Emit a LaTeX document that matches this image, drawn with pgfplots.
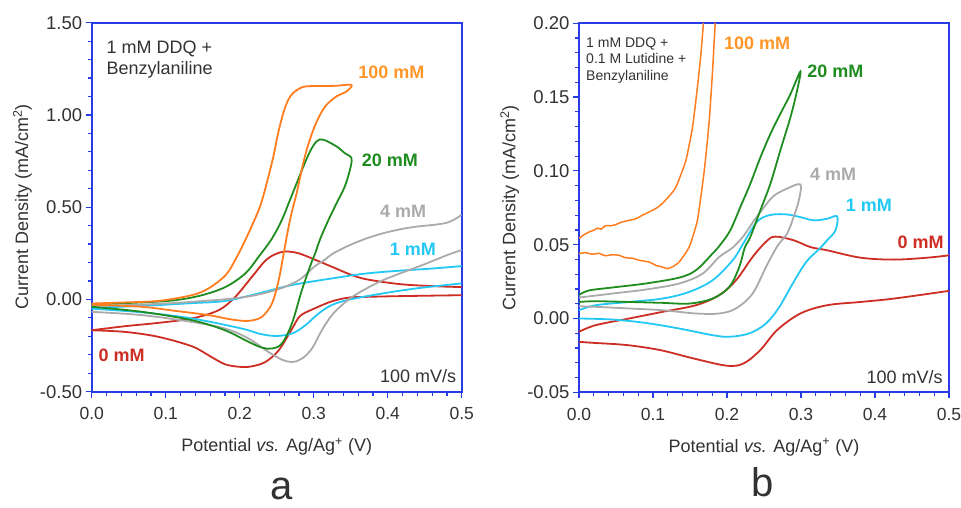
\documentclass[border=0pt]{standalone}
\usepackage{fontspec}
\setmainfont{Liberation Sans}
\usepackage{pgfplots}
\pgfplotsset{compat=1.18}

\definecolor{axblue}{RGB}{40,60,230}
\definecolor{cvorange}{RGB}{255,125,30}
\definecolor{lborange}{RGB}{255,150,40}
\definecolor{cvgreen}{RGB}{30,140,30}
\definecolor{cvgray}{RGB}{170,170,170}
\definecolor{cvcyan}{RGB}{35,200,245}
\definecolor{cvred}{RGB}{205,45,35}
\definecolor{txt}{RGB}{50,50,50}

\pgfplotsset{
 cv/.style={color=#1, line width=1.8pt, smooth, tension=0.55, mark=none},
 cvax/.style={
  scale only axis, width=370pt, height=369pt,
  xmin=0, xmax=0.5,
  axis line style={axblue, line width=1.8pt},
  tick style={axblue, line width=1.2pt},
  tick align=outside, tick pos=left,
  major tick length=6pt, minor tick length=4pt,
  xtick={0,0.1,0.2,0.3,0.4,0.5}, minor x tick num=4, minor y tick num=4,
  ticklabel style={text=txt},
  xticklabel style={font=\fontsize{17.5}{17.5}\selectfont, yshift=-6pt,
    /pgf/number format/.cd, fixed, fixed zerofill, precision=1},
  yticklabel style={font=\fontsize{18.5}{18.5}\selectfont,
    /pgf/number format/.cd, fixed, fixed zerofill, precision=2},
  /pgf/number format/assume math mode=true,
  label style={font=\fontsize{18}{18}\selectfont, text=txt},
  xlabel={Potential \textit{vs.} Ag/Ag\textsuperscript{+} (V)},
  ylabel={Current Density (mA/cm\textsuperscript{2})},
  xlabel style={at={(axis description cs:0.5,-0.149)}, anchor=center},
  ylabel style={at={(axis description cs:-0.187,0.5)}, anchor=center},
 }}

\begin{document}
\begin{tikzpicture}
\useasboundingbox (0,0) rectangle (961pt,508pt);

% ---------- panel a ----------
\begin{axis}[cvax, at={(91.7pt,116.3pt)}, anchor=south west,
  ymin=-0.5, ymax=1.5, ytick={-0.5,0,0.5,1,1.5}]
% 0 mM
\addplot[cv=cvred] coordinates {
 (0,-0.167) (0.045,-0.145) (0.09,-0.127) (0.1355,-0.103) (0.1716,-0.058)
 (0.194,0.014) (0.2166,0.123) (0.2346,0.21) (0.248,0.245) (0.2616,0.26)
 (0.2797,0.25) (0.302,0.215) (0.3265,0.174) (0.349,0.136) (0.3716,0.109)
 (0.4166,0.083) (0.4616,0.072) (0.5,0.067)};
\addplot[cv=cvred] coordinates {
 (0.5,0.023) (0.4166,0.018) (0.3716,0.014) (0.349,0.011) (0.3247,-0.01)
 (0.2977,-0.055) (0.2815,-0.09) (0.2706,-0.16) (0.2527,-0.276) (0.2346,-0.339)
 (0.2166,-0.3625) (0.203,-0.366) (0.1806,-0.352) (0.158,-0.303) (0.1355,-0.254)
 (0.0905,-0.203) (0.0454,-0.176) (0,-0.167)};
% 1 mM
\addplot[cv=cvcyan] coordinates {
 (0,-0.045) (0.068,-0.035) (0.1355,-0.02) (0.1806,-0.008) (0.2257,0.033)
 (0.2706,0.078) (0.3247,0.114) (0.3716,0.141) (0.4166,0.156) (0.4616,0.168)
 (0.5,0.181)};
\addplot[cv=cvcyan] coordinates {
 (0,-0.05) (0.068,-0.07) (0.1355,-0.103) (0.203,-0.158) (0.2257,-0.185)
 (0.248,-0.198) (0.2706,-0.185) (0.2887,-0.14) (0.3067,-0.076) (0.3247,-0.03)
 (0.349,0.0) (0.394,0.033) (0.439,0.06) (0.5,0.087)};
% 4 mM
\addplot[cv=cvgray] coordinates {
 (0,-0.035) (0.068,-0.028) (0.1355,-0.013) (0.203,0.011) (0.248,0.05)
 (0.28,0.105) (0.30,0.175) (0.315,0.215) (0.3265,0.25) (0.349,0.295)
 (0.3716,0.331) (0.394,0.359) (0.4166,0.38) (0.439,0.395) (0.4616,0.404)
 (0.48,0.416) (0.493,0.44) (0.5,0.46)};
\addplot[cv=cvgray] coordinates {
 (0,-0.067) (0.068,-0.085) (0.1355,-0.122) (0.1806,-0.158) (0.212,-0.212)
 (0.239,-0.285) (0.257,-0.326) (0.2706,-0.339) (0.284,-0.321) (0.2977,-0.266)
 (0.311,-0.167) (0.3265,-0.076) (0.349,0.005) (0.3716,0.06) (0.394,0.105)
 (0.4166,0.141) (0.439,0.174) (0.4616,0.21) (0.484,0.246) (0.5,0.268)};
% 20 mM
\addplot[cv=cvgreen] coordinates {
 (0,-0.026) (0.068,-0.016) (0.113,-0.004) (0.149,0.023) (0.181,0.068)
 (0.2076,0.141) (0.2257,0.232) (0.2436,0.33) (0.257,0.431) (0.268,0.54)
 (0.277,0.63) (0.286,0.72) (0.295,0.802) (0.304,0.857) (0.313,0.866)
 (0.331,0.829) (0.342,0.793) (0.351,0.766)
 (0.349,0.703) (0.342,0.612) (0.331,0.522) (0.320,0.431) (0.309,0.33)
 (0.302,0.25) (0.297,0.2) (0.284,0.05) (0.2706,-0.13) (0.257,-0.239)
 (0.2436,-0.266) (0.230,-0.261) (0.212,-0.23) (0.18,-0.167) (0.1355,-0.1125)
 (0.068,-0.067) (0,-0.04)};
% 100 mM
\addplot[cv=cvorange] coordinates {
 (0,-0.022) (0.045,-0.016) (0.09,-0.008) (0.135,0.023) (0.158,0.060)
 (0.181,0.132) (0.194,0.214) (0.2076,0.322) (0.214,0.377) (0.2274,0.503)
 (0.2365,0.630) (0.2455,0.775) (0.252,0.902) (0.259,1.011) (0.2657,1.083)
 (0.2725,1.12) (0.2815,1.145) (0.29,1.155) (0.31,1.157) (0.33,1.158)
 (0.351,1.163)
 (0.3446,1.128) (0.331,1.101) (0.3176,1.056) (0.3085,1.0) (0.2995,0.92)
 (0.2905,0.811) (0.2838,0.703) (0.277,0.576) (0.270,0.467) (0.2635,0.340)
 (0.2595,0.25) (0.2527,0.105) (0.2436,-0.022) (0.230,-0.094) (0.212,-0.116)
 (0.1896,-0.109) (0.158,-0.085) (0.113,-0.062) (0.068,-0.040) (0,-0.028)};

\node[anchor=north west, inner sep=0pt, align=left, text=txt,
  font=\fontsize{18}{21}\selectfont] at (axis cs:0.02,1.40)
  {1 mM DDQ +\\Benzylaniline};
\node[text=lborange, font=\fontsize{18}{18}\selectfont\bfseries] at (axis cs:0.405,1.232) {100 mM};
\node[text=cvgreen, font=\fontsize{18}{18}\selectfont\bfseries] at (axis cs:0.403,0.753) {20 mM};
\node[text=cvgray, font=\fontsize{18}{18}\selectfont\bfseries] at (axis cs:0.421,0.476) {4 mM};
\node[text=cvcyan, font=\fontsize{18}{18}\selectfont\bfseries] at (axis cs:0.434,0.272) {1 mM};
\node[text=cvred, font=\fontsize{18}{18}\selectfont\bfseries] at (axis cs:0.0405,-0.303) {0 mM};
\node[text=txt, font=\fontsize{18}{18}\selectfont] at (axis cs:0.441,-0.417) {100 mV/s};
\end{axis}

% ---------- panel b ----------
\begin{axis}[cvax, at={(579pt,115.7pt)}, anchor=south west,
  ymin=-0.05, ymax=0.2, ytick={-0.05,0,0.05,0.1,0.15,0.2}]
% 0 mM
\addplot[cv=cvred] coordinates {
 (0,-0.009) (0.0226,-0.0045) (0.0677,0.0) (0.1128,0.0045) (0.158,0.009)
 (0.1895,0.0158) (0.2122,0.0259) (0.2346,0.0417) (0.2527,0.052) (0.265,0.0555)
 (0.29,0.053) (0.3127,0.0484) (0.3354,0.0462) (0.3804,0.0412) (0.4256,0.0399)
 (0.4707,0.0412) (0.5,0.0428)};
\addplot[cv=cvred] coordinates {
 (0.5,0.0187) (0.4256,0.0135) (0.3804,0.0112) (0.3354,0.009) (0.2992,0.0034)
 (0.2676,-0.0079) (0.245,-0.0214) (0.2225,-0.0304) (0.2,-0.032) (0.155,-0.0271)
 (0.1096,-0.0214) (0.0646,-0.018) (0.0194,-0.0165) (0,-0.0158)};
% 1 mM
\addplot[cv=cvcyan] coordinates {
 (0,0.0056) (0.0226,0.009) (0.0677,0.0112) (0.1128,0.0135) (0.1489,0.018)
 (0.1805,0.0259) (0.2076,0.0394) (0.221,0.050) (0.2383,0.0642) (0.2495,0.0687)
 (0.263,0.0705) (0.2812,0.0705) (0.2992,0.0687) (0.3174,0.0665) (0.3354,0.0676)
 (0.3489,0.0692)
 (0.3466,0.0597) (0.3354,0.053) (0.325,0.0473) (0.307,0.0383) (0.2888,0.0237)
 (0.2708,0.0079) (0.2527,-0.0034) (0.2301,-0.0101) (0.2031,-0.0124) (0.1805,-0.0113)
 (0.1354,-0.0068) (0.090,-0.003) (0.045,-0.0007) (0,0.0)};
% 4 mM
\addplot[cv=cvgray] coordinates {
 (0,0.0142) (0.045,0.0169) (0.09,0.0196) (0.1354,0.0237) (0.167,0.0304)
 (0.1895,0.0417) (0.2076,0.048) (0.2225,0.056) (0.236,0.066) (0.2495,0.075)
 (0.263,0.083) (0.2812,0.088) (0.2992,0.0908)
 (0.297,0.080) (0.290,0.0687) (0.2812,0.0575) (0.268,0.049) (0.2527,0.0349)
 (0.2346,0.0169) (0.2122,0.0068) (0.1895,0.0034) (0.158,0.0034) (0.1128,0.0056)
 (0.0677,0.0068) (0.0226,0.0079) (0,0.0083)};
% 20 mM
\addplot[cv=cvgreen] coordinates {
 (0,0.016) (0.0135,0.019) (0.045,0.021) (0.090,0.0237) (0.1354,0.0277)
 (0.158,0.0327) (0.1805,0.044) (0.191,0.050) (0.2044,0.0597) (0.218,0.0755)
 (0.2315,0.0913) (0.245,0.109) (0.2586,0.125) (0.272,0.1386) (0.2857,0.152)
 (0.2992,0.1674)
 (0.2947,0.1544) (0.2857,0.1363) (0.272,0.1138) (0.2586,0.0913) (0.245,0.0732)
 (0.2315,0.0552) (0.224,0.048) (0.2166,0.0349) (0.2031,0.0214) (0.1805,0.0135)
 (0.1489,0.0101) (0.1128,0.0106) (0.0677,0.0112) (0.0226,0.0117) (0,0.0112)};
% 100 mM
\addplot[cv=cvorange, line width=1.5pt, tension=0.3] coordinates {
 (0,0.0541) (0.005,0.0562) (0.0135,0.0586) (0.02,0.0598) (0.025,0.0612)
 (0.03,0.0606) (0.036,0.063) (0.043,0.0628) (0.05,0.0637) (0.057,0.0652)
 (0.0677,0.0665) (0.074,0.0672) (0.08,0.0683) (0.085,0.0698) (0.090,0.071)
 (0.1,0.0735) (0.106,0.0752) (0.1128,0.078) (0.122,0.083) (0.131,0.089)
 (0.1444,0.107) (0.1534,0.1296) (0.160,0.1566) (0.1647,0.179) (0.168,0.1995)
 (0.169,0.21)};
\addplot[cv=cvorange, line width=1.5pt, tension=0.3] coordinates {
 (0.1855,0.21) (0.184,0.1995) (0.1805,0.168) (0.176,0.134) (0.1693,0.1003)
 (0.160,0.0665) (0.1489,0.0484) (0.1354,0.0383) (0.127,0.0352) (0.1196,0.0338)
 (0.111,0.0351) (0.1038,0.036) (0.095,0.0382) (0.0819,0.0394) (0.072,0.0408)
 (0.0625,0.0412) (0.0542,0.0428) (0.045,0.0432) (0.0355,0.0425) (0.0271,0.0441)
 (0.018,0.0436) (0.008,0.0446) (0,0.044)};

\node[anchor=north west, inner sep=0pt, align=left, text=txt,
  font=\fontsize{14}{16.5}\selectfont] at (axis cs:0.0095,0.1904)
  {1 mM DDQ +\\0.1 M Lutidine +\\Benzylaniline};
\node[text=lborange, font=\fontsize{18}{18}\selectfont\bfseries] at (axis cs:0.2406,0.1864) {100 mM};
\node[text=cvgreen, font=\fontsize{18}{18}\selectfont\bfseries] at (axis cs:0.3466,0.1675) {20 mM};
\node[text=cvgray, font=\fontsize{18}{18}\selectfont\bfseries] at (axis cs:0.3435,0.0976) {4 mM};
\node[text=cvcyan, font=\fontsize{18}{18}\selectfont\bfseries] at (axis cs:0.3917,0.0766) {1 mM};
\node[text=cvred, font=\fontsize{18}{18}\selectfont\bfseries] at (axis cs:0.4616,0.0514) {0 mM};
\node[text=txt, font=\fontsize{18}{18}\selectfont] at (axis cs:0.44,-0.040) {100 mV/s};
\end{axis}

\node[anchor=base, text=txt, font=\fontsize{40}{40}\selectfont] at (282pt,8pt) {a};
\node[anchor=base, text=txt, font=\fontsize{40}{40}\selectfont] at (763pt,11pt) {b};
\end{tikzpicture}
\end{document}
